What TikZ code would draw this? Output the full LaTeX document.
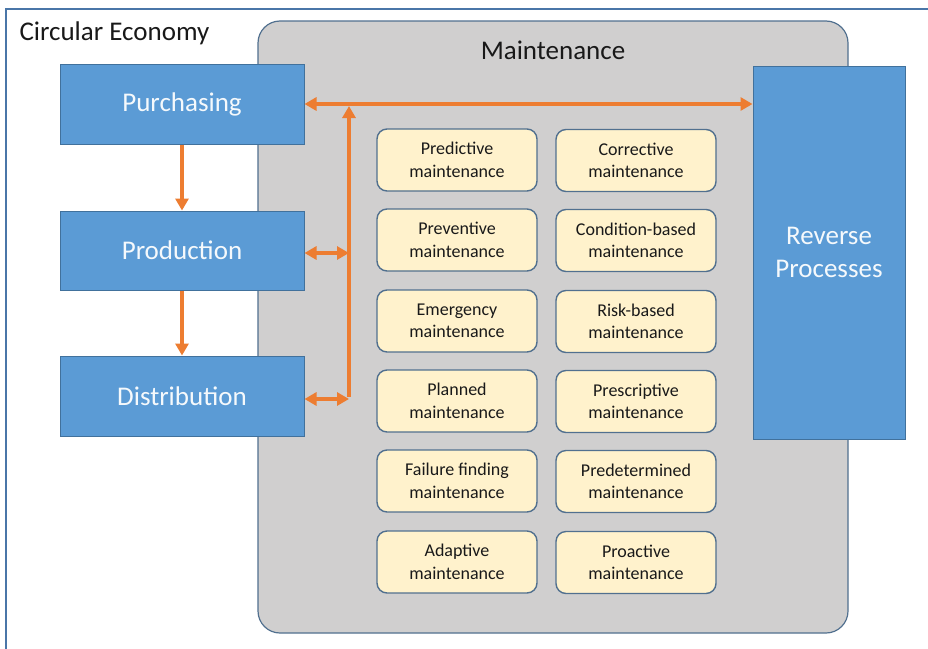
\documentclass[tikz,border=0pt]{standalone}
\usepackage{fontspec}
\setmainfont{Carlito}
\usetikzlibrary{arrows.meta}
\definecolor{frameblue}{HTML}{4A76A8}
\definecolor{boxblue}{HTML}{5B9BD5}
\definecolor{boxedge}{HTML}{41719C}
\definecolor{panelgray}{HTML}{D0CFCF}
\definecolor{paneledge}{HTML}{51708F}
\definecolor{cream}{HTML}{FFF2CC}
\definecolor{flow}{HTML}{ED7D31}
\tikzset{
  bigtext/.style={font=\fontsize{27}{33}\selectfont},
  process/.style={draw=boxedge, line width=1pt, fill=boxblue, text=white!94!boxblue,
    bigtext, align=center, inner sep=0pt},
  mtype/.style={draw=paneledge, line width=1.4pt, fill=cream, rounded corners=10pt,
    minimum width=160pt, minimum height=62pt, inner sep=0pt, align=center,
    text=black!90, font=\fontsize{18}{22.5}\selectfont},
  flowline/.style={draw=flow, line width=3.5pt,
    -{Triangle[length=12pt,width=13pt]}},
  flowboth/.style={flowline, {Triangle[length=12pt,width=13pt]}-{Triangle[length=12pt,width=13pt]}},
}
\begin{document}
\begin{tikzpicture}[x=1pt,y=-1pt]
  \clip (0,0) rectangle (928,648);
  \fill[white] (0,0) rectangle (928,648);
  % outer frame (open to the right and bottom)
  \draw[frameblue, line width=2pt] (5.5,660) -- (5.5,9) -- (940,9);
  \node[anchor=west, bigtext, text=black!90] (ce) at (16,33) {Circular Economy};

  % maintenance panel
  \node[draw=paneledge, line width=1.2pt, fill=panelgray, rounded corners=22pt,
        minimum width=590pt, minimum height=612pt] (panel) at (553,327) {};
  \node[bigtext, text=black!90] (mt) at (553,50) {Maintenance};

  % process boxes
  \node[process, minimum width=244pt, minimum height=80pt] (pur) at (182,104) {Purchasing};
  \node[process, minimum width=244pt, minimum height=79pt] (prod) at (182,250.5) {Production};
  \node[process, minimum width=244pt, minimum height=80pt] (dist) at (182,396) {Distribution};
  \node[process, minimum width=152pt, minimum height=373pt] (rev) at (829,252.5) {Reverse\\Processes};

  % maintenance types
  \node[mtype] (m1) at (457,160) {Predictive\\maintenance};
  \node[mtype] (m2) at (636,160.5) {Corrective\\maintenance};
  \node[mtype] (m3) at (457,240) {Preventive\\maintenance};
  \node[mtype] (m4) at (636,240.5) {Condition-based\\maintenance};
  \node[mtype] (m5) at (457,321) {Emergency\\maintenance};
  \node[mtype] (m6) at (636,321.5) {Risk-based\\maintenance};
  \node[mtype] (m7) at (457,401) {Planned\\maintenance};
  \node[mtype] (m8) at (636,401.5) {Prescriptive\\maintenance};
  \node[mtype] (m9) at (457,481) {Failure finding\\maintenance};
  \node[mtype] (m10) at (636,481.5) {Predetermined\\maintenance};
  \node[mtype] (m11) at (457,562) {Adaptive\\maintenance};
  \node[mtype] (m12) at (636,562.5) {Proactive\\maintenance};

  % connectors
  \coordinate (jtop) at (349,106);
  \coordinate (jmid) at (349,253);
  \coordinate (jbot) at (349,399);
  \draw[flowline] (pur) -- (prod);
  \draw[flowline] (prod) -- (dist);
  \draw[flowboth] (pur.east) -- (rev.west |- pur.east);
  \draw[draw=flow, line width=3.5pt, -{Triangle[length=12pt,width=13pt]}]
    ([yshift=1.75pt]jbot) -- (jtop);
  \draw[flowboth] (prod.east |- jmid) -- (jmid);
  \draw[flowboth] (dist.east |- jbot) -- (jbot);
\end{tikzpicture}
\end{document}
